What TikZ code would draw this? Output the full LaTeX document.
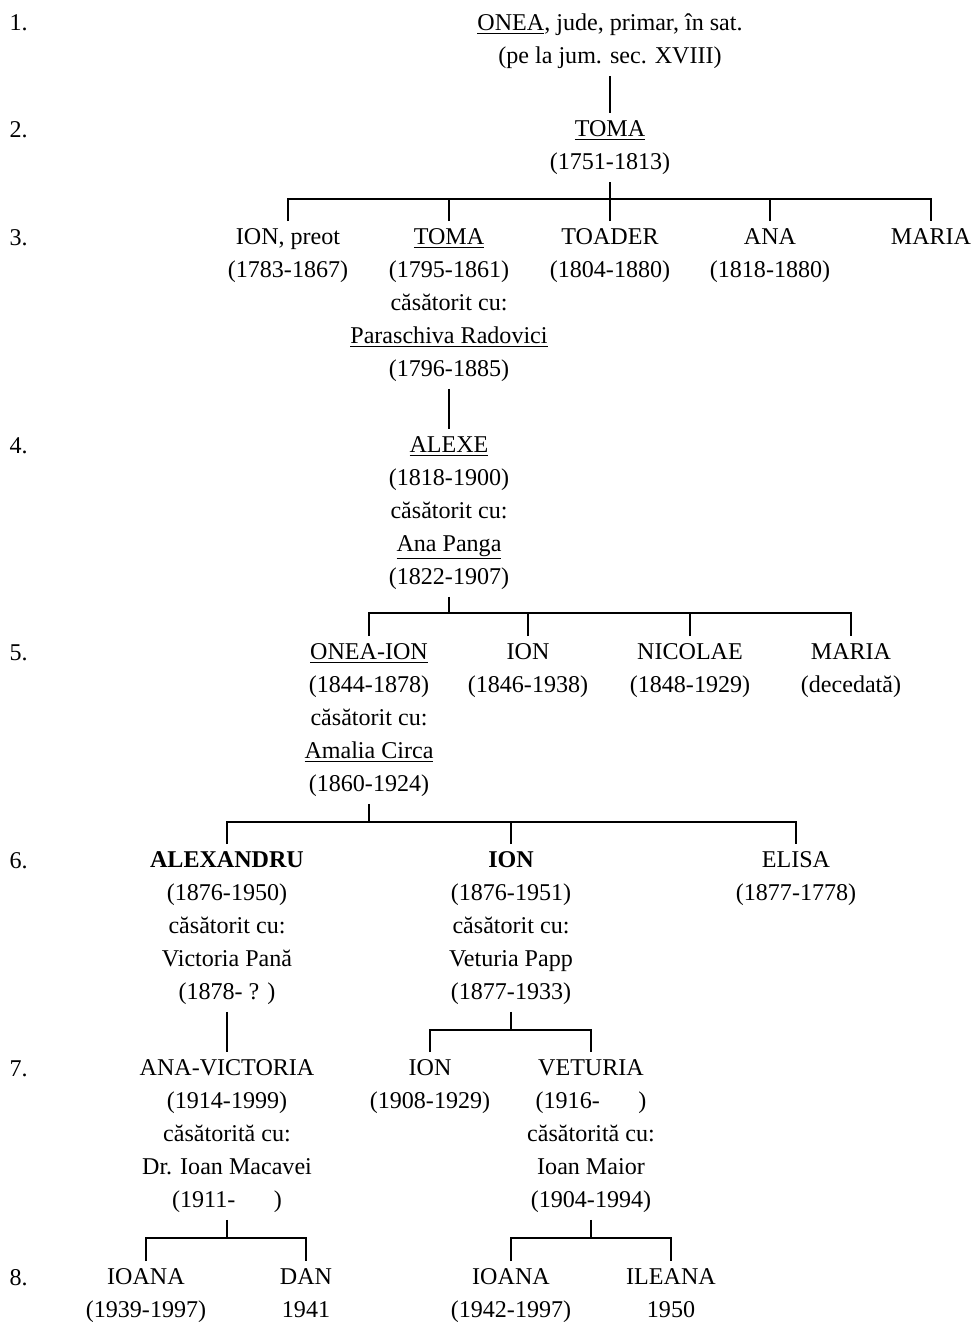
\documentclass[tikz,border=0pt]{standalone}
\usepackage{fontspec}
\setmainfont{Liberation Serif}
\begin{document}
\begin{tikzpicture}[x=0.02cm,y=-0.02cm,
    font=\fontsize{13.7}{18.7}\selectfont,
    person/.style={anchor=north, align=center, inner xsep=0pt, inner ysep=4pt},
    gen/.style={anchor=mid west, inner sep=0pt},
    line width=0.8pt]
  \useasboundingbox (0,0) rectangle (975,1322);
  % generations
  \node[gen] (g1) at (9,26) {1.};
  \node[gen] (g2) at (9,133) {2.};
  \node[gen] (g3) at (9,241) {3.};
  \node[gen] (g4) at (9,449) {4.};
  \node[gen] (g5) at (9,656) {5.};
  \node[gen] (g6) at (9,864) {6.};
  \node[gen] (g7) at (9,1072) {7.};
  \node[gen] (g8) at (9,1281) {8.};
  % 1 - 2
  \node[person] (onea) at (610,6) {\underline{ONEA}, jude, primar, în sat.\\(pe la jum. sec. XVIII)};
  \node[person] (toma) at (610,113) {\underline{TOMA}\\(1751-1813)};
  \draw (onea) -- (toma);
  % 3
  \node[person] (ion3) at (288,221) {ION, preot\\(1783-1867)};
  \node[person] (tomaj) at (449,221) {\underline{TOMA}\\(1795-1861)\\căsătorit cu:\\\underline{Paraschiva Radovici}\\(1796-1885)};
  \node[person] (toader) at (610,221) {TOADER\\(1804-1880)};
  \node[person] (ana) at (770,221) {ANA\\(1818-1880)};
  \node[person] (maria3) at (931,221) {MARIA};
  \coordinate (b2) at (0,199);
  \draw (toma.south) -- (toma.south |- b2);
  \draw (ion3.north) |- (b2 -| maria3.north) -- (maria3.north);
  \foreach \k in {tomaj,toader,ana}
    \draw (\k.north) -- (\k.north |- b2);
  % 4
  \node[person] (alexe) at (449,429) {\underline{ALEXE}\\(1818-1900)\\căsătorit cu:\\\underline{Ana Panga}\\(1822-1907)};
  \draw (tomaj) -- (alexe);
  % 5
  \node[person] (oneaion) at (369,636) {\underline{ONEA-ION}\\(1844-1878)\\căsătorit cu:\\\underline{Amalia Circa}\\(1860-1924)};
  \node[person] (ion5) at (528,636) {ION\\(1846-1938)};
  \node[person] (nicolae) at (690,636) {NICOLAE\\(1848-1929)};
  \node[person] (maria5) at (851,636) {MARIA\\(decedată)};
  \coordinate (b4) at (0,613);
  \draw (alexe.south) -- (alexe.south |- b4);
  \draw (oneaion.north) |- (b4 -| maria5.north) -- (maria5.north);
  \foreach \k in {ion5,nicolae}
    \draw (\k.north) -- (\k.north |- b4);
  % 6
  \node[person] (alexandru) at (227,844) {\textbf{ALEXANDRU}\\(1876-1950)\\căsătorit cu:\\Victoria Pană\\(1878- ? )};
  \node[person] (ion6) at (511,844) {\textbf{ION}\\(1876-1951)\\căsătorit cu:\\Veturia Papp\\(1877-1933)};
  \node[person] (elisa) at (796,844) {ELISA\\(1877-1778)};
  \coordinate (b5) at (0,822);
  \draw (oneaion.south) -- (oneaion.south |- b5);
  \draw (alexandru.north) |- (b5 -| elisa.north) -- (elisa.north);
  \draw (ion6.north) -- (ion6.north |- b5);
  % 7
  \node[person] (anavic) at (227,1052) {ANA-VICTORIA\\(1914-1999)\\căsătorită cu:\\Dr. Ioan Macavei\\(1911-\hspace{1.6em})};
  \node[person] (ion7) at (430,1052) {ION\\(1908-1929)};
  \node[person] (veturia) at (591,1052) {VETURIA\\(1916-\hspace{1.6em})\\căsătorită cu:\\Ioan Maior\\(1904-1994)};
  \draw (alexandru) -- (anavic);
  \coordinate (b6) at (0,1030);
  \draw (ion6.south) -- (ion6.south |- b6);
  \draw (ion7.north) |- (b6 -| veturia.north) -- (veturia.north);
  % 8
  \node[person] (ioana1) at (146,1261) {IOANA\\(1939-1997)};
  \node[person] (dan) at (306,1261) {DAN\\1941};
  \node[person] (ioana2) at (511,1261) {IOANA\\(1942-1997)};
  \node[person] (ileana) at (671,1261) {ILEANA\\1950};
  \coordinate (b7) at (0,1238);
  \draw (anavic.south) -- (anavic.south |- b7);
  \draw[line width=1.2pt] (ioana1.north) |- (b7 -| dan.north) -- (dan.north);
  \draw (veturia.south) -- (veturia.south |- b7);
  \draw[line width=1.2pt] (ioana2.north) |- (b7 -| ileana.north) -- (ileana.north);
\end{tikzpicture}
\end{document}
